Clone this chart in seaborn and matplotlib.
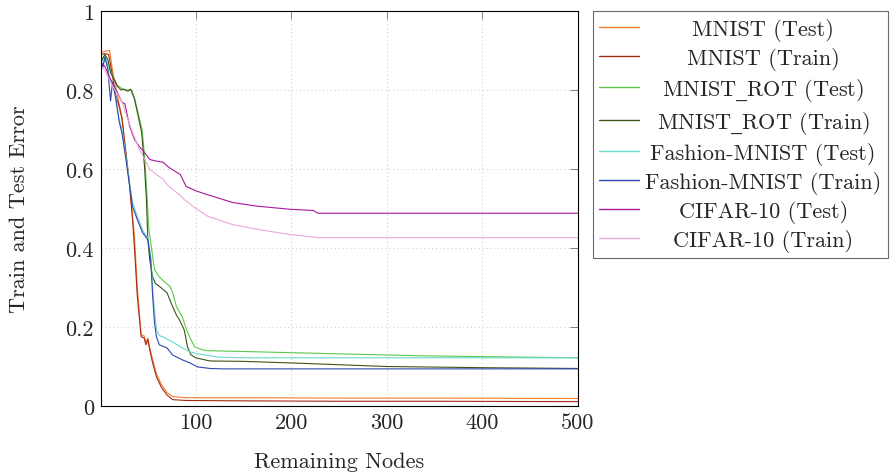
import matplotlib
matplotlib.use('Agg')
import matplotlib.pyplot as plt
from matplotlib.lines import Line2D
import seaborn as sns
import pandas as pd

# values
mnist_test_x = [1, 5, 10, 13, 17, 20, 23, 27, 31, 34, 36, 39, 43, 46, 48, 50, 52, 55, 59, 64, 70, 76, 90, 150, 250, 350, 500]
mnist_test_y = [0.895, 0.898, 0.9, 0.85, 0.80, 0.765, 0.73, 0.645, 0.56, 0.48, 0.43, 0.30, 0.18, 0.178, 0.16, 0.172, 0.148, 0.118, 0.082, 0.055, 0.034, 0.024, 0.021, 0.021, 0.02, 0.02, 0.019]

mnist_train_x = [1, 5, 9, 12, 16, 20, 23, 27, 31, 34, 36, 39, 43, 46, 48, 50, 52, 55, 59, 64, 70, 76, 90, 150, 250, 350, 500]
mnist_train_y = [0.89, 0.892, 0.89, 0.85, 0.79, 0.759, 0.726, 0.642, 0.556, 0.472, 0.40, 0.277, 0.175, 0.173, 0.155, 0.168, 0.142, 0.109, 0.074, 0.048, 0.028, 0.016, 0.014, 0.013, 0.012, 0.012, 0.011]

rot_test_x = [1, 5, 8, 11, 14, 18, 22, 26, 30, 33, 36, 39, 44, 47, 49, 51, 54, 57, 62, 67, 73, 76, 80, 86, 90.5, 94, 99, 107, 113, 150, 200, 250, 338, 400, 500]
rot_test_y = [0.875, 0.885, 0.875, 0.848, 0.828, 0.812, 0.805, 0.80, 0.80, 0.80, 0.78, 0.75, 0.70, 0.62, 0.54, 0.45, 0.396, 0.345, 0.327, 0.315, 0.303, 0.287, 0.251, 0.226, 0.193, 0.173, 0.15, 0.142, 0.14, 0.138, 0.135, 0.132, 0.127, 0.125, 0.122]

rot_train_x = [1, 5, 8, 11, 14, 16, 18, 22, 25, 29, 32, 36, 39, 43.5, 46.5, 48.5, 50, 52, 55, 58, 62, 66, 70, 76, 80, 83, 88, 91.5, 95, 100, 115, 150, 200, 300, 400, 500]
rot_train_y = [0.87, 0.89, 0.878, 0.845, 0.83, 0.822, 0.81, 0.80, 0.802, 0.797, 0.802, 0.777, 0.744, 0.693, 0.607, 0.523, 0.421, 0.37, 0.327, 0.31, 0.303, 0.295, 0.287, 0.251, 0.23, 0.218, 0.193, 0.15, 0.13, 0.122, 0.114, 0.113, 0.109, 0.10, 0.097, 0.095]

fashion_test_x = [1, 4, 7, 10, 13, 16, 20, 23, 27.5, 31, 34, 39, 44.5, 50, 53, 55, 57, 59, 62, 66, 76, 86, 94, 102, 123, 150, 200, 300, 400, 500]
fashion_test_y = [0.875, 0.87, 0.878, 0.83, 0.815, 0.79, 0.725, 0.70, 0.625, 0.565, 0.515, 0.48, 0.445, 0.425, 0.38, 0.30, 0.24, 0.193, 0.178, 0.175, 0.162, 0.147, 0.137, 0.132, 0.124, 0.122, 0.122, 0.122, 0.122, 0.122]

fashion_train_x = [1, 3, 5, 8, 11, 13, 16, 20, 23, 27.5, 31, 34, 39, 44.5, 50, 53, 55, 57, 59, 62, 70, 76, 86, 94, 102, 115, 128, 200, 300, 400, 500]
fashion_train_y = [0.87, 0.858, 0.883, 0.855, 0.772, 0.82, 0.785, 0.72, 0.69, 0.617, 0.556, 0.505, 0.472, 0.439, 0.421, 0.37, 0.28, 0.21, 0.175, 0.155, 0.147, 0.129, 0.117, 0.109, 0.099, 0.095, 0.094, 0.094, 0.094, 0.094, 0.094]

cifar_test_x = [1, 5, 11, 18, 23, 26, 31, 36, 41, 46.5, 52, 59, 66, 72, 84, 90, 100, 111, 139, 164, 199, 223, 228, 300, 400, 500]
cifar_test_y = [0.87, 0.86, 0.827, 0.794, 0.769, 0.765, 0.708, 0.675, 0.657, 0.642, 0.624, 0.62, 0.617, 0.604, 0.586, 0.556, 0.545, 0.536, 0.515, 0.506, 0.498, 0.495, 0.488, 0.488, 0.488, 0.488]

cifar_train_x = [1, 5, 11, 18, 23, 28, 34, 41, 47, 52, 59, 66, 72, 83, 88, 99, 113, 139, 170, 199, 230, 300, 400, 500]
cifar_train_y = [0.86, 0.85, 0.82, 0.79, 0.77, 0.733, 0.693, 0.65, 0.624, 0.599, 0.586, 0.574, 0.556, 0.535, 0.523, 0.502, 0.48, 0.459, 0.445, 0.434, 0.426, 0.426, 0.426, 0.426]

labels = ['MNIST (Test)', 'MNIST (Train)', 'MNIST_ROT (Test)', 'MNIST_ROT (Train)',
          'Fashion-MNIST (Test)', 'Fashion-MNIST (Train)', 'CIFAR-10 (Test)', 'CIFAR-10 (Train)']
colors = ['#f47c30', '#a62a12', '#5cc84a', '#3d5416', '#6ad8cc', '#3048b0', '#a818a0', '#e8a8dc']
series = [(mnist_test_x, mnist_test_y), (mnist_train_x, mnist_train_y),
          (rot_test_x, rot_test_y), (rot_train_x, rot_train_y),
          (fashion_test_x, fashion_test_y), (fashion_train_x, fashion_train_y),
          (cifar_test_x, cifar_test_y), (cifar_train_x, cifar_train_y)]

frames = []
for lab, (xs, ys) in zip(labels, series):
    frames.append(pd.DataFrame({'nodes': xs, 'error': ys, 'series': lab}))
df = pd.concat(frames, ignore_index=True)

sns.set_style('white')
plt.rcParams['font.family'] = ['cmr10', 'DejaVu Serif']
plt.rcParams['axes.formatter.use_mathtext'] = True
plt.rcParams['mathtext.fontset'] = 'dejavuserif'

fig = plt.figure(figsize=(8.96, 4.77), dpi=100)
ax = fig.add_axes([101 / 896, 1 - 407 / 477, 477 / 896, 395 / 477])

sns.lineplot(data=df, x='nodes', y='error', hue='series', hue_order=labels,
             palette=dict(zip(labels, colors)), estimator=None, sort=False,
             linewidth=0.8, legend=False, ax=ax)

ax.set_xlim(1, 500)
ax.set_ylim(0, 1)
ax.set_xticks([100, 200, 300, 400, 500])
ax.set_xticklabels(['100', '200', '300', '400', '500'])
ax.set_yticks([0, 0.2, 0.4, 0.6, 0.8, 1])
ax.set_yticklabels(['0', '0.2', '0.4', '0.6', '0.8', '1'])
ax.tick_params(direction='in', length=5.5, width=0.7, color='#808080',
               top=True, right=True, labelsize=16, pad=5)
ax.grid(True, linestyle=(0, (1, 3)), color='#c8c8c8', linewidth=0.7)
for sp in ax.spines.values():
    sp.set_color('black')
    sp.set_linewidth(0.8)

ax.set_xlabel('Remaining Nodes', fontsize=16, labelpad=14)
ax.set_ylabel('Train and Test Error', fontsize=16, labelpad=26)

# cmr10 has no underscore glyph, draw it through mathtext
leg_labels = [s.replace('_', r'$\_$') for s in labels]
handles = [Line2D([], [], color=c, linewidth=1.0) for c in colors]
leg = ax.legend(handles, leg_labels, loc='upper left',
                bbox_to_anchor=(1.031, 1.0), fontsize=16, frameon=True,
                fancybox=False, edgecolor='#444444', handlelength=1.8,
                labelspacing=0.27, borderpad=0.3, borderaxespad=0,
                handletextpad=0.25)
leg.get_frame().set_linewidth(0.8)

# center the legend entries like pgfplots does
renderer = fig.canvas.get_renderer()
widths = [t.get_window_extent(renderer).width for t in leg.get_texts()]
wmax = max(widths)
for t, w in zip(leg.get_texts(), widths):
    t.set_position(((wmax - w) / 2, 0))

fig.savefig('out.png', dpi=100)
plt.close(fig)
